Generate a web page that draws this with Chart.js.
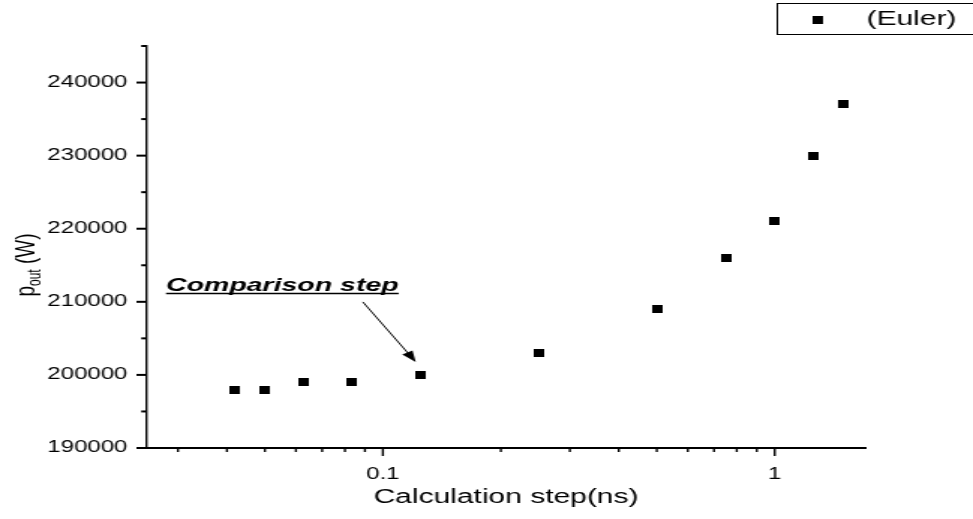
<!DOCTYPE html>
<html>
<head>
<meta charset="utf-8">
<script src="https://cdn.jsdelivr.net/npm/chart.js@4.4.0/dist/chart.umd.min.js"></script>
<style>
  html, body { margin: 0; padding: 0; background: #fff; overflow: hidden; }
  /* the source figure is stretched sideways, so the canvas is too */
  #wrap { width: 649px; height: 519px; transform: scaleX(1.4992); transform-origin: 0 0; }
</style>
</head>
<body>
<div id="wrap"><canvas id="chart" width="649" height="519"></canvas></div>
<script>
const stepNs = [0.0417, 0.05, 0.0625, 0.0833, 0.125, 0.25, 0.5, 0.75, 1, 1.25, 1.5];
const pOutW = [198000, 198000, 199000, 199000, 200000, 203000, 209000, 216000, 221000, 230000, 237000];
const xTicks = [0.03, 0.04, 0.05, 0.06, 0.07, 0.08, 0.09, 0.1, 0.2, 0.3, 0.4, 0.5, 0.6, 0.7, 0.8, 0.9, 1];
const xTickLabels = { 0.1: "0.1", 1: "1" };
const yLabelStep = 10000;
const seriesName = "(Euler)";
const noteText = "Comparison step";
const noteAt = 4; // 0.125 ns sample

const FONT = "'Liberation Sans', Arial, sans-serif";

// square-ish marker, gets widened by the stretch
const marker = document.createElement("canvas");
marker.width = 7;
marker.height = 8;
const mctx = marker.getContext("2d");
mctx.fillStyle = "#000";
mctx.fillRect(0, 0, 7, 8);

const decor = {
  id: "decor",
  afterDraw(chart) {
    const { ctx, chartArea: a, scales: { x, y } } = chart;
    ctx.save();
    ctx.strokeStyle = "#000";
    ctx.fillStyle = "#000";

    // tick marks, outside the frame
    ctx.lineWidth = 1.4;
    x.ticks.forEach((t) => {
      const px = x.getPixelForValue(t.value);
      const len = t.major ? 8 : 4;
      ctx.beginPath();
      ctx.moveTo(px, a.bottom);
      ctx.lineTo(px, a.bottom + len);
      ctx.stroke();
    });
    ctx.lineWidth = 2;
    y.ticks.forEach((t) => {
      const py = y.getPixelForValue(t.value);
      const len = t.value % yLabelStep === 0 ? 7 : 3.8;
      ctx.beginPath();
      ctx.moveTo(a.left, py);
      ctx.lineTo(a.left - len, py);
      ctx.stroke();
    });

    // y title with subscript
    ctx.save();
    ctx.translate(23, 265);
    ctx.rotate(-Math.PI / 2);
    const big = `19px ${FONT}`;
    const small = `12px ${FONT}`;
    ctx.font = big;
    const wP = ctx.measureText("p").width;
    const wW = ctx.measureText(" (W)").width;
    ctx.font = small;
    const wSub = ctx.measureText("out").width;
    let cx = -(wP + wSub + wW) / 2;
    ctx.textAlign = "left";
    ctx.textBaseline = "alphabetic";
    ctx.font = big;
    ctx.fillText("p", cx, 0);
    cx += wP;
    ctx.font = small;
    ctx.fillText("out", cx, 4);
    cx += wSub;
    ctx.font = big;
    ctx.fillText(" (W)", cx, 0);
    ctx.restore();

    // legend box, runs off the right edge
    ctx.lineWidth = 1;
    ctx.strokeRect(518.5, 3.5, 140, 31);
    ctx.drawImage(marker, 545 - 3.5, 20 - 4);
    ctx.font = `20px ${FONT}`;
    ctx.textAlign = "left";
    ctx.textBaseline = "middle";
    ctx.fillText(chart.data.datasets[0].label, 578, 19);

    // annotation + arrow
    const px = x.getPixelForValue(stepNs[noteAt]);
    const py = y.getPixelForValue(pOutW[noteAt]);
    ctx.font = `italic bold 19px ${FONT}`;
    ctx.textBaseline = "alphabetic";
    const tx = px - 170, ty = py - 84;
    ctx.fillText(noteText, tx, ty);
    const tw = ctx.measureText(noteText).width;
    ctx.lineWidth = 1.5;
    ctx.beginPath();
    ctx.moveTo(tx, ty + 2.5);
    ctx.lineTo(tx + tw, ty + 2.5);
    ctx.stroke();

    const ax0 = px - 38.7, ay0 = py - 73, ax1 = px - 3.4, ay1 = py - 13;
    const ang = Math.atan2(ay1 - ay0, ax1 - ax0);
    ctx.lineWidth = 1;
    ctx.beginPath();
    ctx.moveTo(ax0, ay0);
    ctx.lineTo(ax1 - 6 * Math.cos(ang), ay1 - 6 * Math.sin(ang));
    ctx.stroke();
    ctx.beginPath();
    ctx.moveTo(ax1, ay1);
    ctx.lineTo(ax1 - 11 * Math.cos(ang) + 4 * Math.sin(ang), ay1 - 11 * Math.sin(ang) - 4 * Math.cos(ang));
    ctx.lineTo(ax1 - 11 * Math.cos(ang) - 4 * Math.sin(ang), ay1 - 11 * Math.sin(ang) + 4 * Math.cos(ang));
    ctx.closePath();
    ctx.fill();

    ctx.restore();
  },
};

const ctx = document.getElementById("chart");
const chart = new Chart(ctx, {
  type: "scatter",
  data: {
    datasets: [
      {
        label: seriesName,
        data: stepNs.map((v, i) => ({ x: v, y: pOutW[i] })),
        pointStyle: marker,
        backgroundColor: "#000",
        borderColor: "#000",
      },
    ],
  },
  options: {
    responsive: false,
    animation: false,
    events: [],
    layout: { padding: { left: 0, top: 46, right: 72, bottom: 0 } },
    plugins: { legend: { display: false }, tooltip: { enabled: false } },
    scales: {
      x: {
        type: "logarithmic",
        min: 0.025,
        max: 1.7,
        afterBuildTicks: (s) => {
          s.ticks = xTicks.map((v) => ({ value: v, major: v in xTickLabels }));
        },
        afterFit: (s) => {
          s.height = 71;
        },
        grid: { display: false, drawTicks: false },
        border: { display: true, color: "#000", width: 2 },
        ticks: {
          autoSkip: false,
          maxRotation: 0,
          padding: 17,
          color: "#000",
          font: { family: FONT, size: 16 },
          callback: (v) => xTickLabels[v] || "",
        },
        title: {
          display: true,
          text: "Calculation step(ns)",
          color: "#000",
          font: { family: FONT, size: 20 },
          padding: { top: 0, bottom: 10 },
        },
      },
      y: {
        min: 190000,
        max: 245000,
        afterFit: (s) => {
          s.width = 98;
        },
        grid: { display: false, drawTicks: false },
        border: { display: true, color: "#000", width: 1.4 },
        ticks: {
          stepSize: 5000,
          padding: 13,
          color: "#000",
          font: { family: FONT, size: 16 },
          callback: (v) => (v % yLabelStep === 0 ? String(v) : ""),
        },
      },
    },
  },
  plugins: [decor],
});
</script>
</body>
</html>
